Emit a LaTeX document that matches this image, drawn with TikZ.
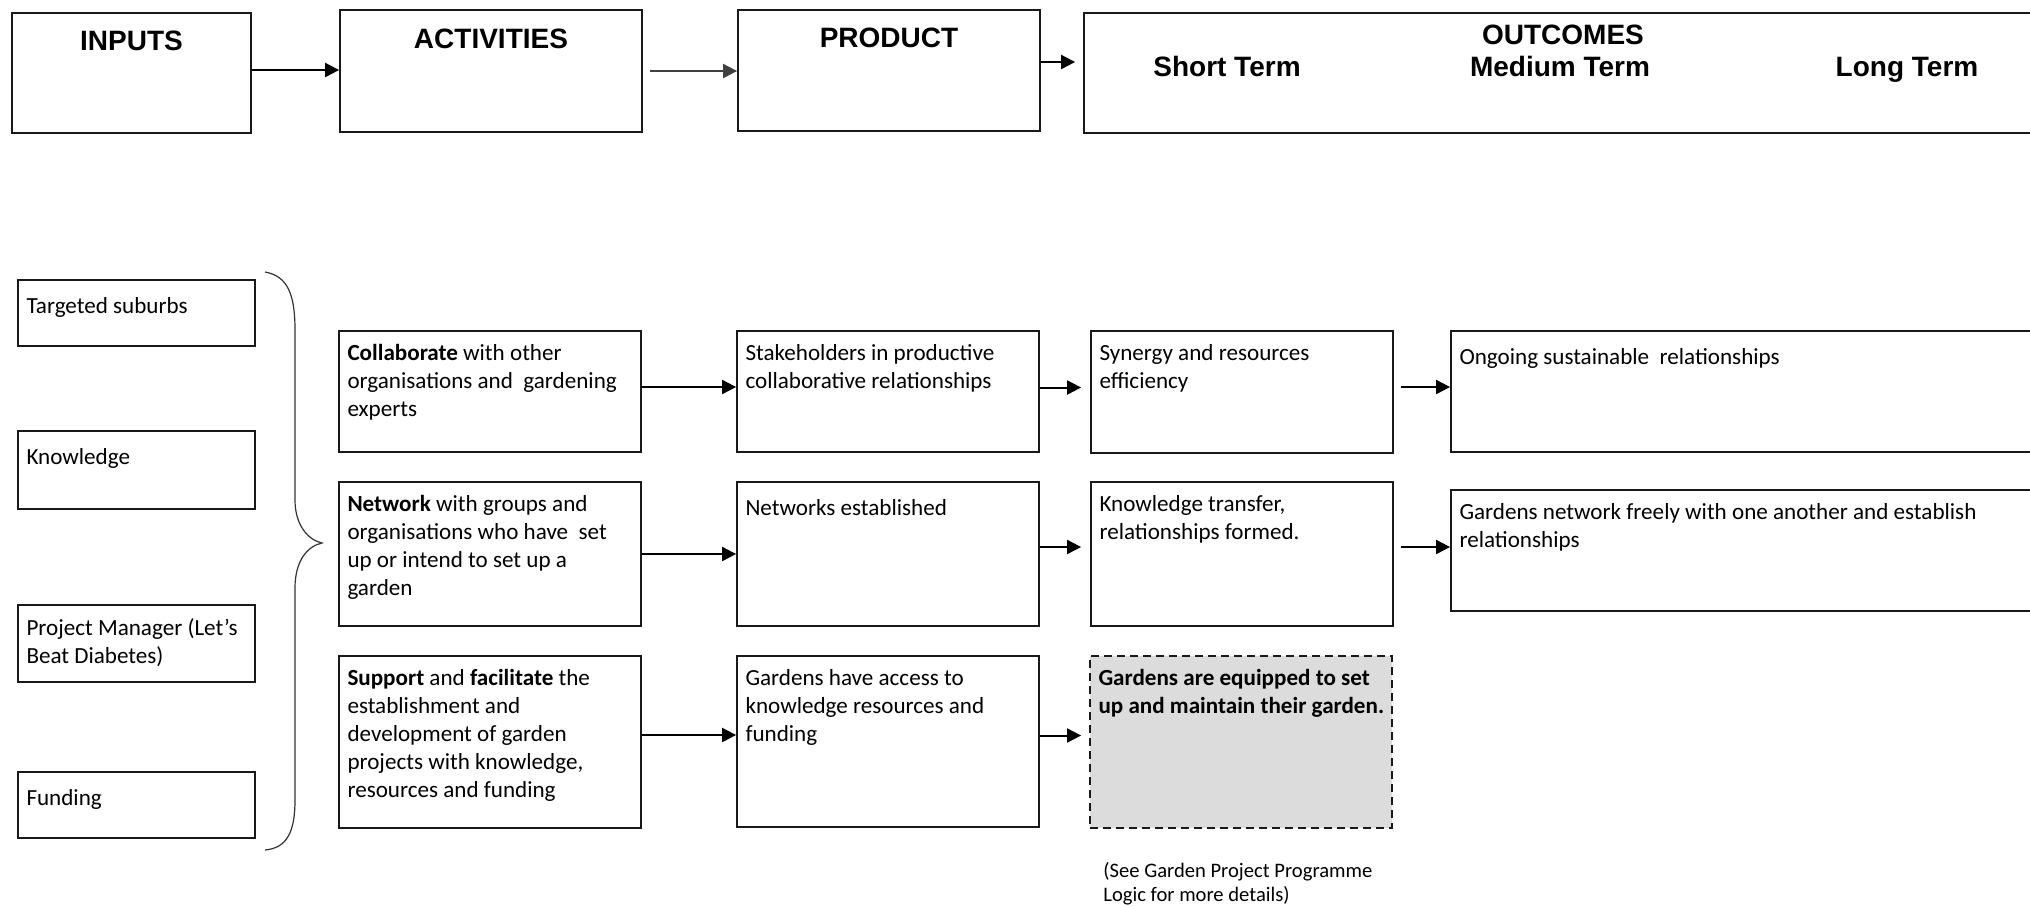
\documentclass[tikz,border=0pt]{standalone}
\usepackage{fontspec}
\setmainfont{Carlito}
\newfontfamily\headfont{Liberation Sans}
\usetikzlibrary{fit,arrows.meta}
\definecolor{dashfill}{HTML}{DCDCDC}
\begin{document}
\begin{tikzpicture}[x=0.5pt,y=-0.5pt,
  box/.style={draw=black!90, line width=0.9pt, inner sep=0pt},
  txt/.style={anchor=north west, inner xsep=4.5pt, inner ysep=7pt, align=left,
    font=\fontsize{11.55}{13.95}\selectfont, execute at begin node=\strut},
  head/.style={font=\headfont\bfseries\fontsize{14}{16}\selectfont, anchor=base, inner sep=0pt},
  arr/.style={line width=1pt, -{Triangle[length=7pt,width=7pt]}},
]
\clip (0,0) rectangle (2030,906);
\fill[white] (0,0) rectangle (2030,906);

% top row
\node[box, fit={(12,13) (251,133)}] (inputs) {};
\node[box, fit={(340,10) (642,132)}] (activities) {};
\node[box, fit={(738,10) (1040,131)}] (product) {};
\node[box, fit={(1084,13) (2070,133)}] (outcomes) {};
\node[head] (hin) at (131.5,50) {INPUTS};
\node[head] (hact) at (491,48) {ACTIVITIES};
\node[head] (hprod) at (889,47) {PRODUCT};
\node[head] (hout) at (1563,44) {OUTCOMES};
\node[head] (hst) at (1227,76) {Short Term};
\node[head] (hmt) at (1560,76) {Medium Term};
\node[head] (hlt) at (1907,76) {Long Term};

\draw[arr] ([yshift=1.5pt]inputs.east) -- ([yshift=1.5pt]inputs.east -| activities.west);
\draw[arr, black!75] ([xshift=3.5pt]activities.east) -- (activities.east -| product.west);
\draw[arr, shorten >=4pt] ([yshift=4.25pt]product.east) -- ([yshift=4.25pt]product.east -| outcomes.west);

% inputs
\node[box, fit={(18,280) (255,346)}] (in1) {};
\node[box, fit={(18,431) (255,509)}] (in2) {};
\node[box, fit={(18,605) (255,682)}] (in3) {};
\node[box, fit={(18,772) (255,838)}] (in4) {};
\node[txt] (tin1) at (in1.north west) {Targeted suburbs};
\node[txt] (tin2) at (in2.north west) {Knowledge};
\node[txt] (tin3) at (in3.north west) {Project Manager (Let’s\\Beat Diabetes)};
\node[txt] (tin4) at (in4.north west) {Funding};

% brace
\draw[black!80, line width=0.6pt] (265,272) .. controls (288,276) and (295,295) .. (295,330)
  -- (295,500) .. controls (295,525) and (308,540) .. (322,543)
  .. controls (308,546) and (295,560) .. (295,588)
  -- (295,800) .. controls (295,832) and (287,848) .. (265,850);

% activities
\node[box, fit={(339,331) (641,452)}] (a1) {};
\node[box, fit={(339,482) (641,626)}] (a2) {};
\node[box, fit={(339,656) (641,828)}] (a3) {};
\node[txt] (ta1) at (a1.north west) {\textbf{Collaborate} with other\\organisations and\ \ gardening\\experts};
\node[txt] (ta2) at (a2.north west) {\textbf{Network} with groups and\\organisations who have\ \ set\\up or intend to set up a\\garden};
\node[txt] (ta3) at (a3.north west) {\textbf{Support} and \textbf{facilitate} the\\establishment and\\development of garden\\projects with knowledge,\\resources and funding};

% products
\node[box, fit={(737,331) (1039,452)}] (p1) {};
\node[box, fit={(737,482) (1039,626)}] (p2) {};
\node[box, fit={(737,656) (1039,827)}] (p3) {};
\node[txt] (tp1) at (p1.north west) {Stakeholders in productive\\collaborative relationships};
\node[txt] (tp2) at (p2.north west) {Networks established};
\node[txt] (tp3) at (p3.north west) {Gardens have access to\\knowledge resources and\\funding};

% short term
\node[box, fit={(1091,331) (1393,453)}] (s1) {};
\node[box, fit={(1091,482) (1393,626)}] (s2) {};
\node[box, dashed, dash pattern=on 4pt off 2.5pt, fill=dashfill, fit={(1090,656) (1392,828)}] (s3) {};
\node[txt] (ts1) at (s1.north west) {Synergy and resources\\efficiency};
\node[txt] (ts2) at (s2.north west) {Knowledge transfer,\\relationships formed.};
\node[txt] (ts3) at (s3.north west) {\textbf{Gardens are equipped to set}\\\textbf{up and maintain their garden.}};

% medium term
\node[box, fit={(1451,331) (2070,452)}] (m1) {};
\node[box, fit={(1451,490) (2070,611)}] (m2) {};
\node[txt] (tm1) at (m1.north west) {Ongoing sustainable\ \ relationships};
\node[txt] (tm2) at (m2.north west) {Gardens network freely with one another and establish\\relationships};

% note
\node[anchor=north west, inner sep=0pt, align=left, font=\fontsize{10.3}{12}\selectfont,
  execute at begin node=\strut] (note) at (1103,862) {(See Garden Project Programme\\Logic for more details)};

% arrows
\draw[arr] ([yshift=2.25pt]a1.east) -- ([yshift=2.25pt]a1.east -| p1.west);
\draw[arr, shorten >=4.5pt] ([yshift=2pt]p1.east) -- ([yshift=2pt]p1.east -| s1.west);
\draw[arr] ([xshift=3.5pt,yshift=2.5pt]s1.east) -- ([yshift=2.5pt]s1.east -| m1.west);
\draw[arr] (a2.east) -- (a2.east -| p2.west);
\draw[arr, shorten >=4.5pt] ([yshift=3.5pt]p2.east) -- ([yshift=3.5pt]p2.east -| s2.west);
\draw[arr] ([xshift=3.5pt,yshift=3.5pt]s2.east) -- ([yshift=3.5pt]s2.east -| m2.west);
\draw[arr] ([yshift=3.5pt]a3.east) -- ([yshift=3.5pt]a3.east -| p3.west);
\draw[arr, shorten >=4pt] ([yshift=3pt]p3.east) -- ([yshift=3pt]p3.east -| s3.west);
\end{tikzpicture}
\end{document}
